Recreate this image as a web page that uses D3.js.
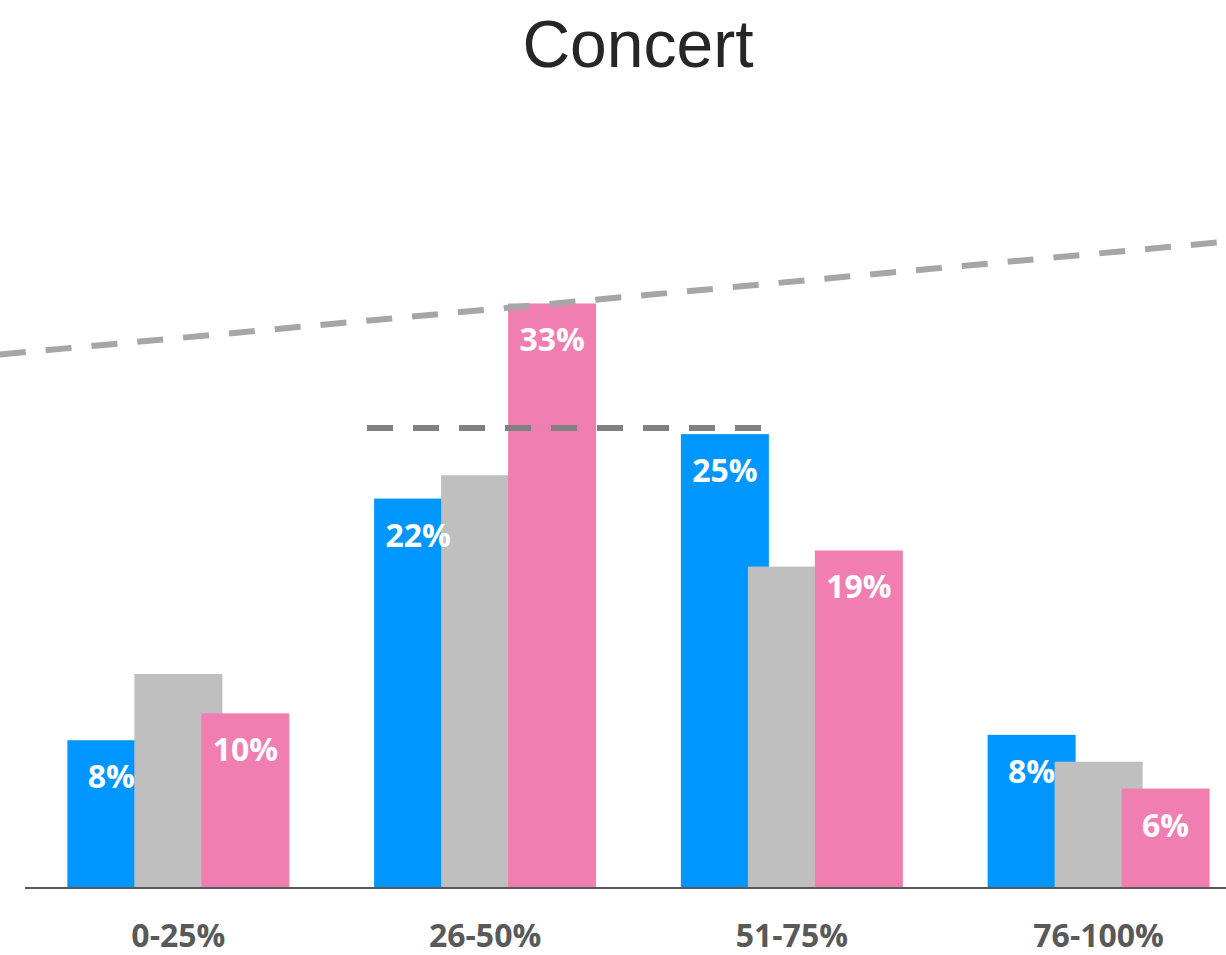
<!DOCTYPE html>
<html>
<head>
<meta charset="utf-8">
<script src="https://cdn.jsdelivr.net/npm/d3@7"></script>
<style>
  html, body { margin: 0; padding: 0; background: #fff; }
  svg { display: block; }
</style>
</head>
<body>
<div id="chart"></div>
<script>
// ---- data ----
const categories = ["0-25%", "26-50%", "51-75%", "76-100%"];
const seriesNames = ["blue", "gray", "pink"];
const blueValues = [8.2, 21.7, 25.3, 8.5];
const grayValues = [11.9, 23.0, 17.9, 7.0];
const pinkValues = [9.7, 32.6, 18.8, 5.5];
const blueLabels = ["8%", "22%", "25%", "8%"];
const pinkLabels = ["10%", "33%", "19%", "6%"];
const title = "Concert";
// sloping dashed reference (category index, value)
const trendLine = [[-0.582, 29.75], [3.416, 36.05]];
// horizontal dashed reference (category index, value)
const avgLine = [[0.615, 25.64], [1.912, 25.64]];

// ---- layout ----
const W = 1226, H = 955;
const baseY = 887;
const colors = { blue: "#0096FF", gray: "#BFBFBF", pink: "#F07EB0" };

const svg = d3.select("#chart").append("svg")
  .attr("width", W).attr("height", H);

const x = d3.scaleBand().domain(categories).range([25, 1252]).padding(0);
const xi = d3.scaleLinear().domain([0, 3])
  .range([x(categories[0]) + x.bandwidth() / 2, x(categories[3]) + x.bandwidth() / 2]);
const y = d3.scaleLinear().domain([0, 40]).range([baseY, baseY - 716]);
const off = d3.scalePoint().domain(seriesNames).range([-67, 67]);
const barW = 88;

const seriesData = [
  { name: "blue", values: blueValues, labels: blueLabels },
  { name: "gray", values: grayValues, labels: null },
  { name: "pink", values: pinkValues, labels: pinkLabels }
];

// title
svg.append("text")
  .attr("x", 638).attr("y", 67)
  .attr("text-anchor", "middle")
  .attr("font-family", "Liberation Sans, Arial, sans-serif")
  .attr("font-size", 66)
  .attr("fill", "#262626")
  .text(title);

const bars = svg.append("g");
const labels = svg.append("g");
seriesData.forEach(s => {
  bars.append("g").selectAll("rect").data(s.values).join("rect")
    .attr("x", (d, i) => x(categories[i]) + x.bandwidth() / 2 + off(s.name) - barW / 2)
    .attr("y", d => y(d))
    .attr("width", barW)
    .attr("height", d => baseY - y(d))
    .attr("fill", colors[s.name]);
  if (s.labels) {
    labels.append("g").selectAll("text").data(s.values).join("text")
      .attr("x", (d, i) => x(categories[i]) + x.bandwidth() / 2 + off(s.name))
      .attr("y", d => y(d) + 48)
      .attr("text-anchor", "middle")
      .attr("font-family", "Open Sans, sans-serif")
      .attr("font-weight", "bold")
      .attr("font-size", 32)
      .attr("fill", "#fff")
      .text((d, i) => s.labels[i]);
  }
});

// baseline
svg.append("line")
  .attr("x1", 25).attr("x2", W)
  .attr("y1", baseY + 1).attr("y2", baseY + 1)
  .attr("stroke", "#595959").attr("stroke-width", 2);

// category labels
svg.append("g").selectAll("text").data(categories).join("text")
  .attr("x", d => x(d) + x.bandwidth() / 2)
  .attr("y", 947)
  .attr("text-anchor", "middle")
  .attr("font-family", "Open Sans, sans-serif")
  .attr("font-weight", "bold")
  .attr("font-size", 32)
  .attr("fill", "#595959")
  .text(d => d);

const lineGen = d3.line().x(d => xi(d[0])).y(d => y(d[1]));

svg.append("path")
  .attr("d", lineGen(trendLine))
  .attr("fill", "none")
  .attr("stroke", "#A6A6A6")
  .attr("stroke-width", 6)
  .attr("stroke-dasharray", "26,20");

svg.append("path")
  .attr("d", lineGen(avgLine))
  .attr("fill", "none")
  .attr("stroke", "#808080")
  .attr("stroke-width", 6)
  .attr("stroke-dasharray", "26,20");
</script>
</body>
</html>
